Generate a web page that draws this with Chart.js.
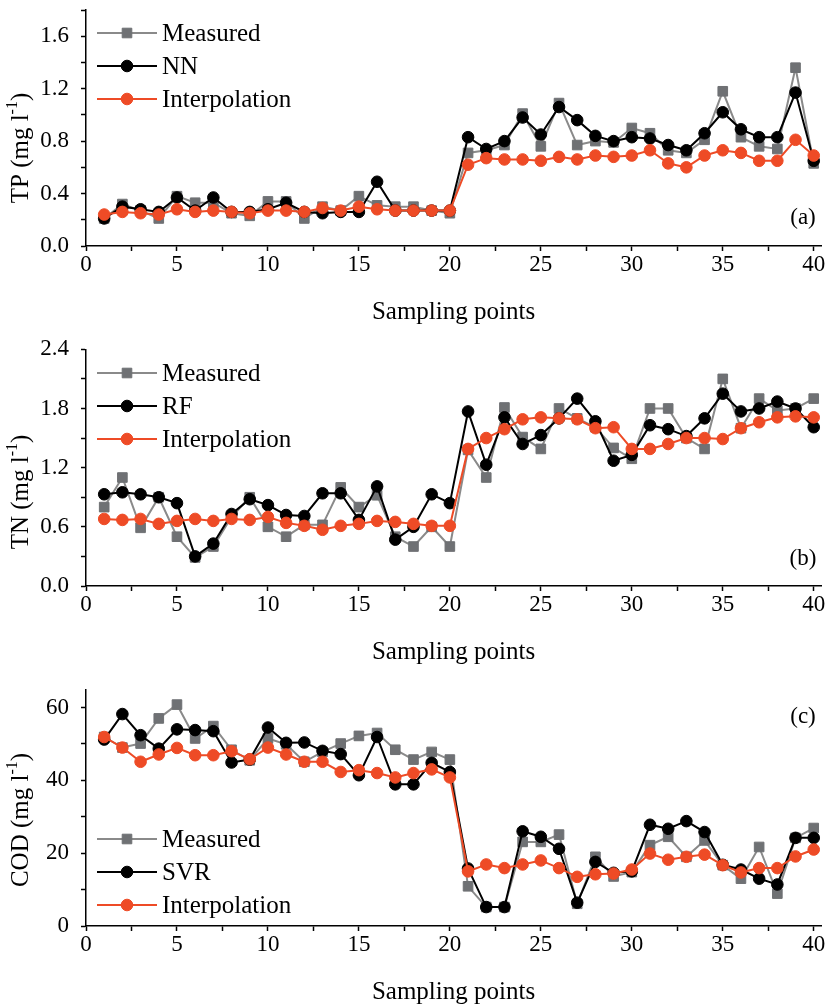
<!DOCTYPE html>
<html lang="en">
<head>
<meta charset="UTF-8">
<title>TP, TN and COD at sampling points</title>
<script src="https://cdn.jsdelivr.net/npm/chart.js"></script>
<style>
  html, body { margin: 0; padding: 0; background: #fff; overflow: hidden; }
  canvas { position: absolute; left: 0; display: block; }
</style>
</head>
<body>
<canvas id="chartTP" width="831" height="327" style="top:0px"></canvas>
<canvas id="chartTN" width="831" height="340" style="top:327px"></canvas>
<canvas id="chartCOD" width="831" height="340" style="top:667px"></canvas>
<script>
// sampling points (x axis)
const samplingPoints = [1, 2, 3, 4, 5, 6, 7, 8, 9, 10, 11, 12, 13, 14, 15, 16, 17, 18, 19, 20,
  21, 22, 23, 24, 25, 26, 27, 28, 29, 30, 31, 32, 33, 34, 35, 36, 37, 38, 39, 40];
const xTickLabels = [0, 5, 10, 15, 20, 25, 30, 35, 40];

// (a) TP
const tpMeasured = [0.21, 0.32, 0.27, 0.21, 0.38, 0.33, 0.33, 0.25, 0.23, 0.34, 0.34, 0.21, 0.30, 0.27, 0.38, 0.31, 0.30, 0.30, 0.27, 0.25,
  0.71, 0.73, 0.77, 1.01, 0.76, 1.09, 0.77, 0.80, 0.79, 0.90, 0.86, 0.73, 0.71, 0.81, 1.18, 0.83, 0.76, 0.74, 1.36, 0.63];
const tpNN = [0.21, 0.30, 0.28, 0.26, 0.37, 0.27, 0.37, 0.26, 0.26, 0.28, 0.33, 0.26, 0.25, 0.26, 0.26, 0.49, 0.27, 0.27, 0.27, 0.27,
  0.83, 0.74, 0.80, 0.98, 0.85, 1.06, 0.96, 0.84, 0.80, 0.83, 0.82, 0.77, 0.73, 0.86, 1.02, 0.89, 0.83, 0.83, 1.17, 0.65];
const tpInterp = [0.24, 0.26, 0.25, 0.24, 0.28, 0.26, 0.27, 0.26, 0.25, 0.27, 0.27, 0.26, 0.29, 0.27, 0.30, 0.28, 0.27, 0.27, 0.27, 0.27,
  0.62, 0.67, 0.66, 0.66, 0.65, 0.68, 0.66, 0.69, 0.68, 0.69, 0.73, 0.63, 0.60, 0.69, 0.73, 0.71, 0.65, 0.65, 0.81, 0.69];
const tpTickLabels = ['0.0', '0.4', '0.8', '1.2', '1.6'];

// (b) TN
const tnMeasured = [0.80, 1.10, 0.59, 0.90, 0.50, 0.29, 0.40, 0.70, 0.90, 0.60, 0.50, 0.62, 0.62, 1.00, 0.80, 0.92, 0.50, 0.40, 0.60, 0.40,
  1.38, 1.10, 1.81, 1.51, 1.39, 1.80, 1.70, 1.61, 1.40, 1.29, 1.80, 1.80, 1.50, 1.39, 2.10, 1.60, 1.90, 1.78, 1.80, 1.90];
const tnRF = [0.93, 0.95, 0.93, 0.90, 0.84, 0.30, 0.43, 0.73, 0.88, 0.82, 0.72, 0.71, 0.94, 0.94, 0.67, 1.01, 0.47, 0.60, 0.93, 0.84,
  1.77, 1.23, 1.71, 1.44, 1.53, 1.70, 1.90, 1.67, 1.27, 1.33, 1.63, 1.59, 1.52, 1.70, 1.95, 1.77, 1.80, 1.87, 1.80, 1.61];
const tnInterp = [0.68, 0.67, 0.68, 0.63, 0.66, 0.68, 0.66, 0.68, 0.67, 0.70, 0.64, 0.61, 0.57, 0.61, 0.63, 0.66, 0.65, 0.63, 0.61, 0.61,
  1.39, 1.50, 1.59, 1.69, 1.71, 1.70, 1.69, 1.60, 1.61, 1.39, 1.39, 1.44, 1.50, 1.50, 1.49, 1.60, 1.66, 1.71, 1.72, 1.71];
const tnTickLabels = ['0.0', '0.6', '1.2', '1.8', '2.4'];

// (c) COD
const codMeasured = [51.9, 49.0, 50.1, 57.0, 60.8, 51.5, 54.9, 48.4, 45.5, 51.5, 49.9, 45.1, 47.8, 50.1, 52.2, 53.0, 48.4, 45.7, 47.8, 45.7,
  10.9, 5.2, 5.2, 23.1, 23.1, 25.1, 6.1, 19.0, 13.6, 14.8, 22.2, 24.5, 19.0, 23.5, 16.7, 13.0, 21.7, 8.9, 24.2, 26.9];
const codSVR = [51.2, 58.2, 52.4, 48.7, 54.0, 53.8, 53.5, 44.9, 45.7, 54.5, 50.3, 50.4, 48.1, 47.2, 41.4, 51.9, 38.9, 38.9, 44.8, 42.3,
  15.8, 5.2, 5.2, 26.0, 24.5, 21.2, 6.4, 17.6, 14.6, 15.0, 27.8, 26.7, 28.8, 25.8, 16.8, 15.5, 13.0, 11.4, 24.2, 24.2];
const codInterp = [51.9, 49.0, 45.1, 47.1, 48.9, 46.9, 46.9, 48.0, 45.8, 49.0, 47.1, 45.1, 45.1, 42.3, 42.8, 42.0, 40.8, 42.0, 43.0, 40.8,
  15.0, 16.9, 15.9, 16.9, 18.0, 15.9, 13.5, 14.2, 14.4, 15.5, 19.9, 18.2, 19.0, 19.6, 16.7, 14.7, 15.9, 15.9, 19.1, 21.0];
const codTickLabels = ['0', '20', '40', '60'];

const FONT = '"Liberation Serif", "Times New Roman", serif';
const greyLine = '#8a8a8a';
const greyMark = '#6f7174';
const black = '#000000';
const red = '#ee4b26';

function series(label, values, lineColor, markColor, style, order) {
  return {
    label: label,
    order: order,
    data: samplingPoints.map((p, i) => ({ x: p, y: values[i] })),
    borderColor: lineColor,
    backgroundColor: markColor,
    borderWidth: 2,
    pointStyle: style,
    pointRadius: style === 'rect' ? 6.8 : 5.8,
    pointBackgroundColor: markColor,
    pointBorderColor: markColor,
    pointBorderWidth: 1,
    tension: 0
  };
}

// legend inside the plot: short line with the marker in the middle, then the name
const insideLegendPlugin = {
  id: 'insideLegend',
  afterDraw(chart, args, opts) {
    const ctx = chart.ctx;
    ctx.save();
    chart.data.datasets.forEach((ds, i) => {
      const y = opts.y + i * 33;
      ctx.strokeStyle = ds.borderColor;
      ctx.lineWidth = 2;
      ctx.beginPath();
      ctx.moveTo(97, y);
      ctx.lineTo(157, y);
      ctx.stroke();
      ctx.fillStyle = ds.pointBackgroundColor;
      ctx.strokeStyle = ds.pointBorderColor;
      ctx.lineWidth = 1;
      Chart.helpers.drawPoint(ctx, { pointStyle: ds.pointStyle, radius: ds.pointRadius, rotation: 0, borderWidth: 1 }, 127, y);
      ctx.fillStyle = '#000';
      ctx.font = '25px ' + FONT;
      ctx.textAlign = 'left';
      ctx.textBaseline = 'middle';
      ctx.fillText(ds.label, 162, y + 1);
    });
    ctx.restore();
  }
};

// y axis title with superscript unit
const yTitlePlugin = {
  id: 'yTitle',
  afterDraw(chart, args, opts) {
    const ctx = chart.ctx;
    const big = '25px ' + FONT;
    const small = '16px ' + FONT;
    ctx.save();
    ctx.translate(opts.x, opts.y);
    ctx.rotate(-Math.PI / 2);
    ctx.fillStyle = '#000';
    ctx.textBaseline = 'middle';
    ctx.textAlign = 'left';
    ctx.font = big;
    const w1 = ctx.measureText(opts.text).width;
    const w3 = ctx.measureText(')').width;
    ctx.font = small;
    const w2 = ctx.measureText('-1').width;
    let x = -(w1 + w2 + w3) / 2;
    ctx.font = big;
    ctx.fillText(opts.text, x, 0);
    x += w1;
    ctx.font = small;
    ctx.fillText('-1', x, -8);
    x += w2;
    ctx.font = big;
    ctx.fillText(')', x, 0);
    ctx.restore();
  }
};

const panelTagPlugin = {
  id: 'panelTag',
  afterDraw(chart, args, opts) {
    const ctx = chart.ctx;
    ctx.save();
    ctx.fillStyle = '#000';
    ctx.font = '23px ' + FONT;
    ctx.textAlign = 'center';
    ctx.textBaseline = 'middle';
    ctx.fillText(opts.text, opts.x, opts.y);
    ctx.restore();
  }
};

function axisStyle() {
  return {
    border: { display: true, color: '#000', width: 1.5 },
    grid: { display: true, drawOnChartArea: false, drawTicks: true, tickLength: 5, tickColor: '#000', tickWidth: 1.5 }
  };
}

function makePanel(id, cfg) {
  return new Chart(document.getElementById(id), {
    type: 'line',
    data: {
      datasets: [
        series('Measured', cfg.measured, greyLine, greyMark, 'rect', 3),
        series(cfg.modelName, cfg.model, black, black, 'circle', 2),
        series('Interpolation', cfg.interp, red, red, 'circle', 1)
      ]
    },
    options: {
      responsive: false,
      animation: false,
      layout: { padding: { top: cfg.top, right: 10, left: 0, bottom: 0 } },
      plugins: {
        tooltip: { enabled: false },
        legend: { display: false },
        insideLegend: { y: cfg.legendY },
        yTitle: { text: cfg.yTitle, x: 21, y: cfg.yTitleY },
        panelTag: { text: cfg.tag, x: 803, y: cfg.tagY }
      },
      scales: {
        x: {
          type: 'linear',
          min: 0,
          max: 40.4,
          ...axisStyle(),
          ticks: {
            stepSize: 2.5,
            includeBounds: false,
            autoSkip: false,
            maxRotation: 0,
            padding: 0,
            color: '#000',
            font: { family: FONT, size: 23 },
            callback: v => xTickLabels.includes(v) ? String(v) : ''
          },
          title: {
            display: true,
            text: 'Sampling points',
            color: '#000',
            font: { family: FONT, size: 25 },
            padding: { top: 0, bottom: 0 }
          },
          afterFit(scale) {
            scale.height = 81;
            scale.paddingRight = 0;
          }
        },
        y: {
          min: 0,
          max: cfg.yMax,
          ...axisStyle(),
          ticks: {
            stepSize: cfg.yStep,
            includeBounds: false,
            autoSkip: false,
            padding: 12,
            color: '#000',
            font: { family: FONT, size: 23 },
            callback: v => {
              const s = v.toFixed(cfg.digits);
              return cfg.tickLabels.includes(s) ? s : '';
            }
          },
          afterFit(scale) {
            scale.width = 86;
            scale.paddingTop = 0;
            scale.paddingBottom = 0;
          }
        }
      }
    },
    plugins: [insideLegendPlugin, yTitlePlugin, panelTagPlugin]
  });
}

makePanel('chartTP', {
  measured: tpMeasured, model: tpNN, interp: tpInterp, modelName: 'NN',
  top: 10, yMax: 1.8, yStep: 0.2, digits: 1, tickLabels: tpTickLabels,
  legendY: 33, yTitle: 'TP (mg l', yTitleY: 148, tag: '(a)', tagY: 218
});

makePanel('chartTN', {
  measured: tnMeasured, model: tnRF, interp: tnInterp, modelName: 'RF',
  top: 22.3, yMax: 2.4, yStep: 0.3, digits: 1, tickLabels: tnTickLabels,
  legendY: 46, yTitle: 'TN (mg l', yTitleY: 165, tag: '(b)', tagY: 232
});

makePanel('chartCOD', {
  measured: codMeasured, model: codSVR, interp: codInterp, modelName: 'SVR',
  top: 22.3, yMax: 65, yStep: 10, digits: 0, tickLabels: codTickLabels,
  legendY: 172, yTitle: 'COD (mg l', yTitleY: 153, tag: '(c)', tagY: 50
});
</script>
</body>
</html>
